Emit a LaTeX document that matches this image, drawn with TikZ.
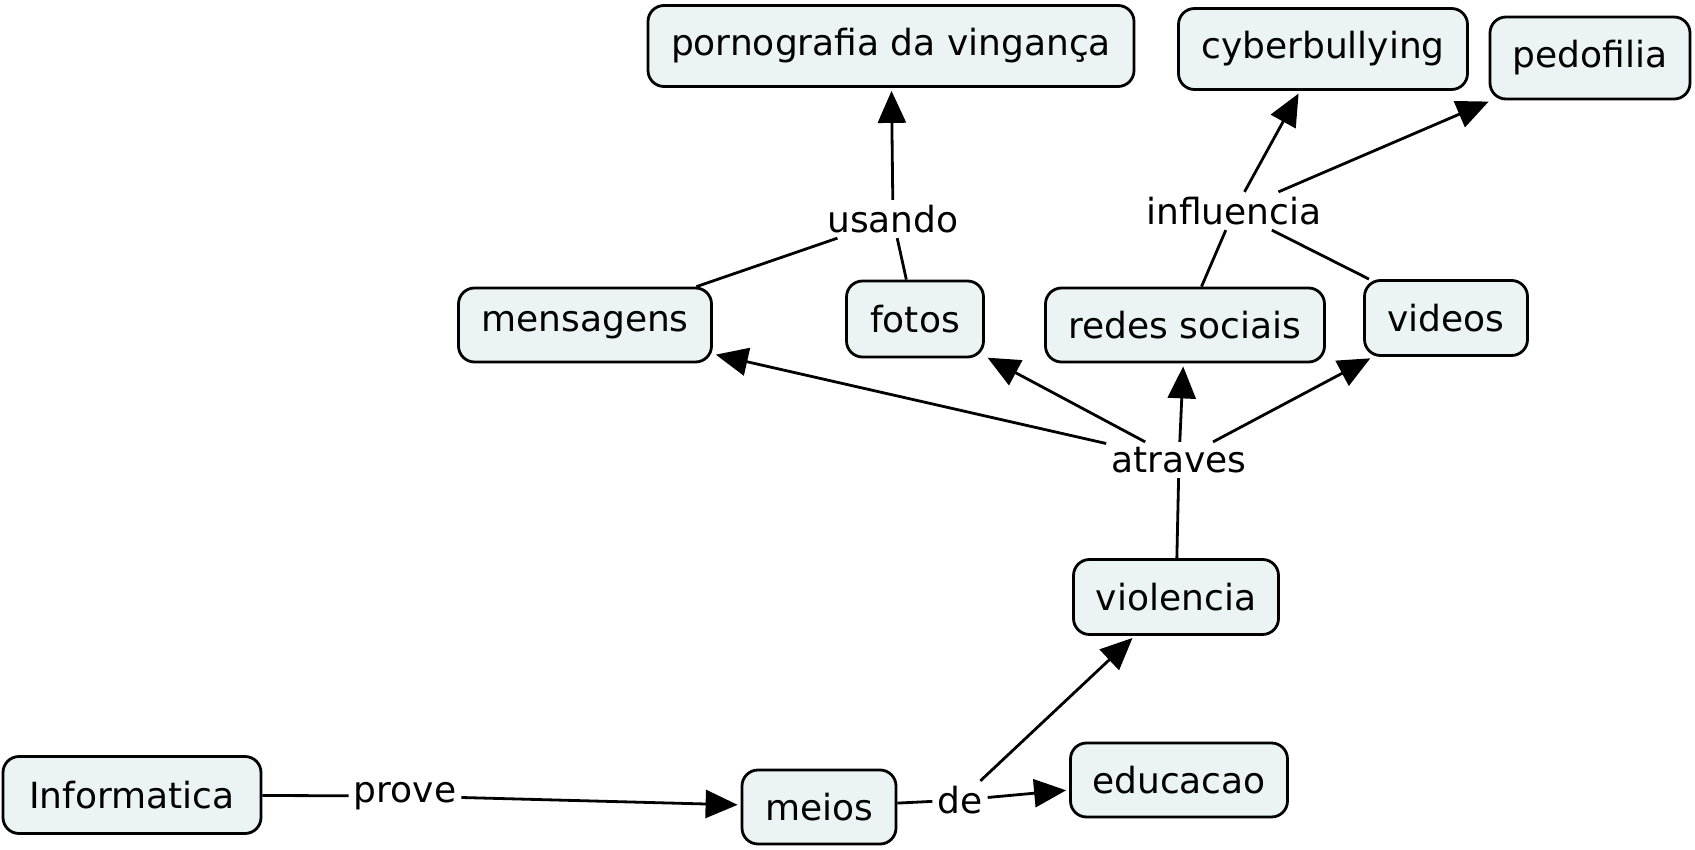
\documentclass[tikz,border=0pt]{standalone}
\usepackage{fontspec}
\setmainfont{DejaVu Sans}
\usetikzlibrary{arrows.meta}
\definecolor{boxfill}{RGB}{236,243,245}
\tikzset{
  concept/.style={draw=black, line width=2.8pt, rounded corners=16pt, fill=boxfill,
    font=\fontsize{36}{42}\selectfont, inner sep=0pt},
  linkword/.style={font=\fontsize{36}{42}\selectfont, inner sep=5pt},
  conn/.style={line width=2.8pt},
  arr/.style={line width=2.8pt, -{Triangle[length=32pt,width=28pt]}, shorten >=3pt},
}
\begin{document}
\begin{tikzpicture}[x=1pt,y=-1pt]
\useasboundingbox (0,0) rectangle (1695,850);
% concepts
\node[concept, minimum width=486pt, minimum height=81pt] (porn) at (891,46) {pornografia da vingança};
\node[concept, minimum width=289pt, minimum height=81pt] (cyber) at (1323,49) {cyberbullying};
\node[concept, minimum width=200pt, minimum height=82pt] (pedo) at (1590,58) {pedofilia};
\node[concept, minimum width=253pt, minimum height=74pt] (mens) at (585,325) {mensagens};
\node[concept, minimum width=137pt, minimum height=76pt] (fotos) at (915,319) {fotos};
\node[concept, minimum width=279pt, minimum height=74pt] (redes) at (1185,325) {redes sociais};
\node[concept, minimum width=163pt, minimum height=75pt] (videos) at (1446,318) {videos};
\node[concept, minimum width=205pt, minimum height=75pt] (viol) at (1176,597) {violencia};
\node[concept, minimum width=258pt, minimum height=77pt] (info) at (132,795) {Informatica};
\node[concept, minimum width=154pt, minimum height=74pt] (meios) at (819,807) {meios};
\node[concept, minimum width=217pt, minimum height=74pt] (edu) at (1179,780) {educacao};
% linking words
\node[linkword] (usando) at (893,219) {usando};
\node[linkword] (influ) at (1234,211) {influencia};
\node[linkword] (atraves) at (1179,460) {atraves};
\node[linkword] (prove) at (405,796) {prove};
\node[linkword] (de) at (960,800) {de};
% connectors
\draw[conn] (info) -- (prove);
\draw[arr] (prove) -- (meios);
\draw[conn] (meios) -- (de);
\draw[arr] (de) -- (viol);
\draw[arr] (de) -- (edu);
\draw[conn] (viol) -- (atraves);
\draw[arr] (atraves) -- (mens);
\draw[arr] (atraves) -- (fotos);
\draw[arr] (atraves) -- (redes);
\draw[arr] (atraves) -- (videos);
\draw[conn] (mens) -- (usando);
\draw[conn] (fotos) -- (usando);
\draw[arr] (usando) -- (porn);
\draw[conn] (redes) -- (influ);
\draw[conn] (videos) -- (influ);
\draw[arr] (influ) -- (cyber);
\draw[arr] (influ) -- (pedo);
\end{tikzpicture}
\end{document}
